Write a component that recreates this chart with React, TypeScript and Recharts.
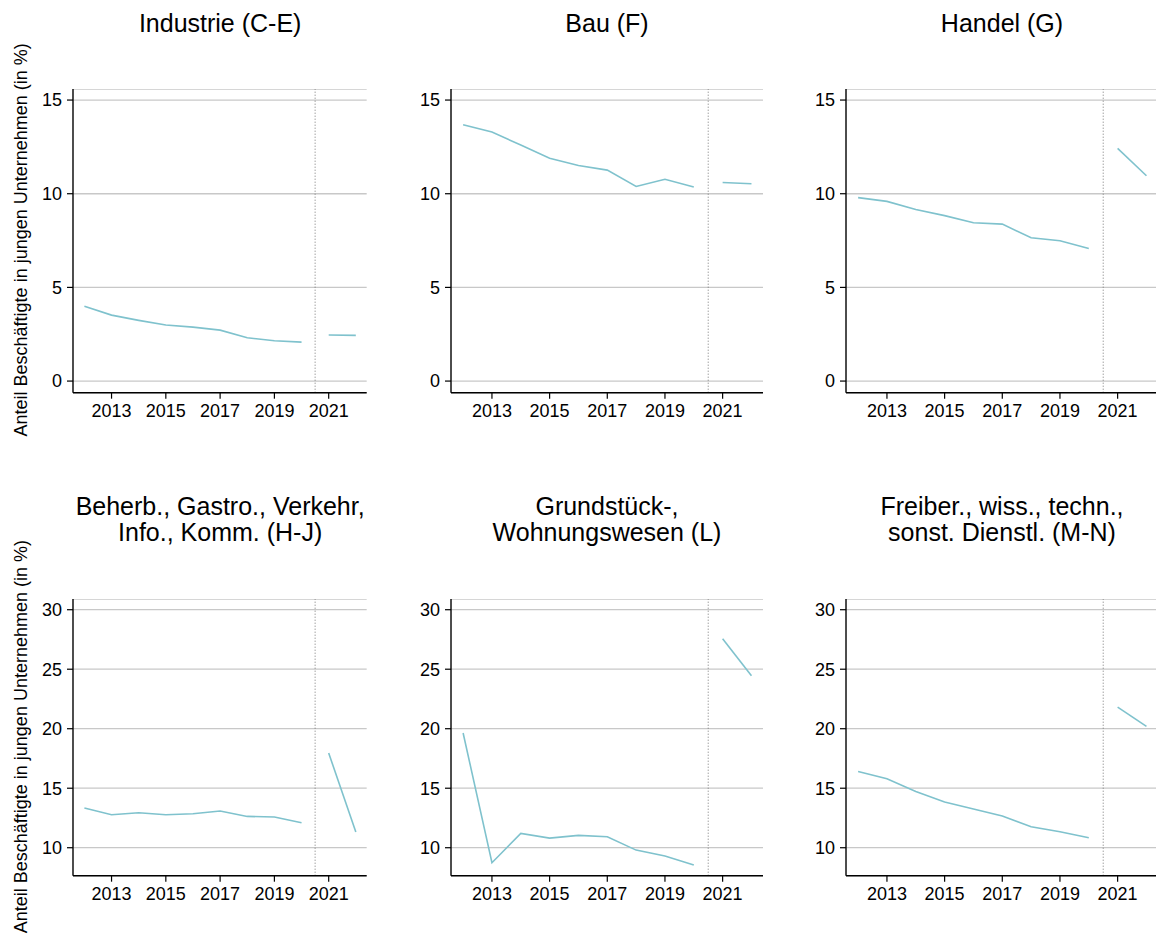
import React from "react";
import {
  LineChart,
  Line,
  XAxis,
  YAxis,
  CartesianGrid,
  ReferenceLine,
} from "recharts";

// Survey years and the break between the old and new data series
const years = [2012, 2013, 2014, 2015, 2016, 2017, 2018, 2019, 2020, 2021, 2022];
const firstYearNewSeries = 2021;
const seriesBreak = 2020.5;
const xTicks = [2013, 2015, 2017, 2019, 2021];

// Share of employees in young firms (in %), per sector
const industrie = [4.0, 3.52, 3.24, 2.99, 2.88, 2.72, 2.31, 2.15, 2.08, 2.46, 2.44];
const bau = [13.68, 13.29, 12.6, 11.89, 11.51, 11.26, 10.39, 10.77, 10.36, 10.6, 10.53];
const handel = [9.79, 9.59, 9.16, 8.83, 8.45, 8.38, 7.65, 7.49, 7.08, 12.42, 10.96];
const beherbergung = [13.33, 12.77, 12.94, 12.77, 12.86, 13.08, 12.63, 12.58, 12.1, 17.96, 11.32];
const grundstueck = [19.64, 8.74, 11.2, 10.81, 11.04, 10.92, 9.8, 9.3, 8.54, 27.56, 24.45];
const freiberufler = [16.41, 15.8, 14.73, 13.84, 13.25, 12.66, 11.76, 11.34, 10.84, 21.82, 20.2];

// Panel titles (one entry per line)
const titles: string[][] = [
  ["Industrie (C-E)"],
  ["Bau (F)"],
  ["Handel (G)"],
  ["Beherb., Gastro., Verkehr,", "Info., Komm. (H-J)"],
  ["Grundstück-,", "Wohnungswesen (L)"],
  ["Freiber., wiss., techn.,", "sonst. Dienstl. (M-N)"],
];
const seriesList = [industrie, bau, handel, beherbergung, grundstueck, freiberufler];

const topTicks = [0, 5, 10, 15];
const bottomTicks = [10, 15, 20, 25, 30];
const yLabel = "Anteil Beschäftigte in jungen Unternehmen (in %)";

const FONT = "'Liberation Sans', Arial, Helvetica, sans-serif";
const LINE_COLOR = "#7fc2cd";
const GRID_COLOR = "#c8c8c8";

// Plot-area geometry of the grid of panels
const columns = [
  { x0: 73.3, x1: 367 },
  { x0: 451, x1: 763 },
  { x0: 846, x1: 1158 },
];
const rows = [
  { y0: 89, y1: 392.7, domain: [-0.62, 15.59] as [number, number], ticks: topTicks },
  { y0: 599.3, y1: 876, domain: [7.65, 30.9] as [number, number], ticks: bottomTicks },
];
const xDomain: [number, number] = [2011.58, 2022.4];

const Y_AXIS_W = 60;
const X_AXIS_H = 40;
const MARGIN_R = 2;

function buildRows(values: number[]) {
  return years.map((year, i) => ({
    year,
    before: year < firstYearNewSeries ? values[i] : null,
    after: year >= firstYearNewSeries ? values[i] : null,
  }));
}

function Panel({ index }: { index: number }) {
  const col = columns[index % 3];
  const row = rows[Math.floor(index / 3)];
  const width = Y_AXIS_W + (col.x1 - col.x0) + MARGIN_R;
  const height = row.y1 - row.y0 + X_AXIS_H;
  const data = buildRows(seriesList[index]);
  const tickStyle = { fontSize: 18, fill: "#000", fontFamily: FONT };

  return (
    <div
      style={{
        position: "absolute",
        left: col.x0 - Y_AXIS_W,
        top: row.y0,
        width,
        height,
      }}
    >
      <LineChart
        width={width}
        height={height}
        data={data}
        margin={{ top: 0, right: MARGIN_R, bottom: 0, left: 0 }}
      >
        <CartesianGrid vertical={false} stroke={GRID_COLOR} strokeWidth={1.3} />
        <XAxis
          type="number"
          dataKey="year"
          domain={xDomain}
          ticks={xTicks}
          allowDataOverflow
          height={X_AXIS_H}
          tickSize={6}
          tickMargin={6}
          tick={tickStyle}
          axisLine={{ stroke: "#000", strokeWidth: 1.4 }}
          tickLine={{ stroke: "#000", strokeWidth: 1.2 }}
          interval={0}
        />
        <YAxis
          type="number"
          domain={row.domain}
          ticks={row.ticks}
          allowDataOverflow
          width={Y_AXIS_W}
          tickSize={6}
          tickMargin={5}
          tick={tickStyle}
          axisLine={{ stroke: "#000", strokeWidth: 1.4 }}
          tickLine={{ stroke: "#000", strokeWidth: 1.2 }}
          interval={0}
        />
        <ReferenceLine
          x={seriesBreak}
          stroke="#777"
          strokeWidth={1}
          strokeDasharray="1 2"
        />
        <Line
          type="linear"
          dataKey="before"
          stroke={LINE_COLOR}
          strokeWidth={1.6}
          dot={false}
          activeDot={false}
          isAnimationActive={false}
        />
        <Line
          type="linear"
          dataKey="after"
          stroke={LINE_COLOR}
          strokeWidth={1.6}
          dot={false}
          activeDot={false}
          isAnimationActive={false}
        />
      </LineChart>
    </div>
  );
}

export default function App() {
  const titleBaselines = [[31.7], [515, 541]];
  return (
    <div
      style={{
        position: "absolute",
        left: 0,
        top: 0,
        width: 1156,
        height: 942,
        overflow: "hidden",
        background: "#fff",
        fontFamily: FONT,
      }}
    >
      {seriesList.map((_, i) => (
        <Panel key={i} index={i} />
      ))}
      <svg
        width={1156}
        height={942}
        style={{ position: "absolute", left: 0, top: 0, pointerEvents: "none" }}
      >
        {titles.map((lines, i) => {
          const col = columns[i % 3];
          const r = Math.floor(i / 3);
          const cx = (col.x0 + Math.min(col.x1, 1156)) / 2;
          const cxAdj = i % 3 === 2 ? (col.x0 + col.x1) / 2 : cx;
          return lines.map((line, j) => (
            <text
              key={`${i}-${j}`}
              x={cxAdj}
              y={titleBaselines[r][j]}
              textAnchor="middle"
              fontSize={25}
              fontFamily={FONT}
              fill="#000"
            >
              {line}
            </text>
          ));
        })}
        {rows.map((row, r) => {
          const cy = (row.y0 + row.y1) / 2 - 1;
          return (
            <text
              key={r}
              x={27}
              y={cy}
              transform={`rotate(-90 27 ${cy})`}
              textAnchor="middle"
              fontSize={18}
              fontFamily={FONT}
              fill="#000"
            >
              {yLabel}
            </text>
          );
        })}
      </svg>
    </div>
  );
}
